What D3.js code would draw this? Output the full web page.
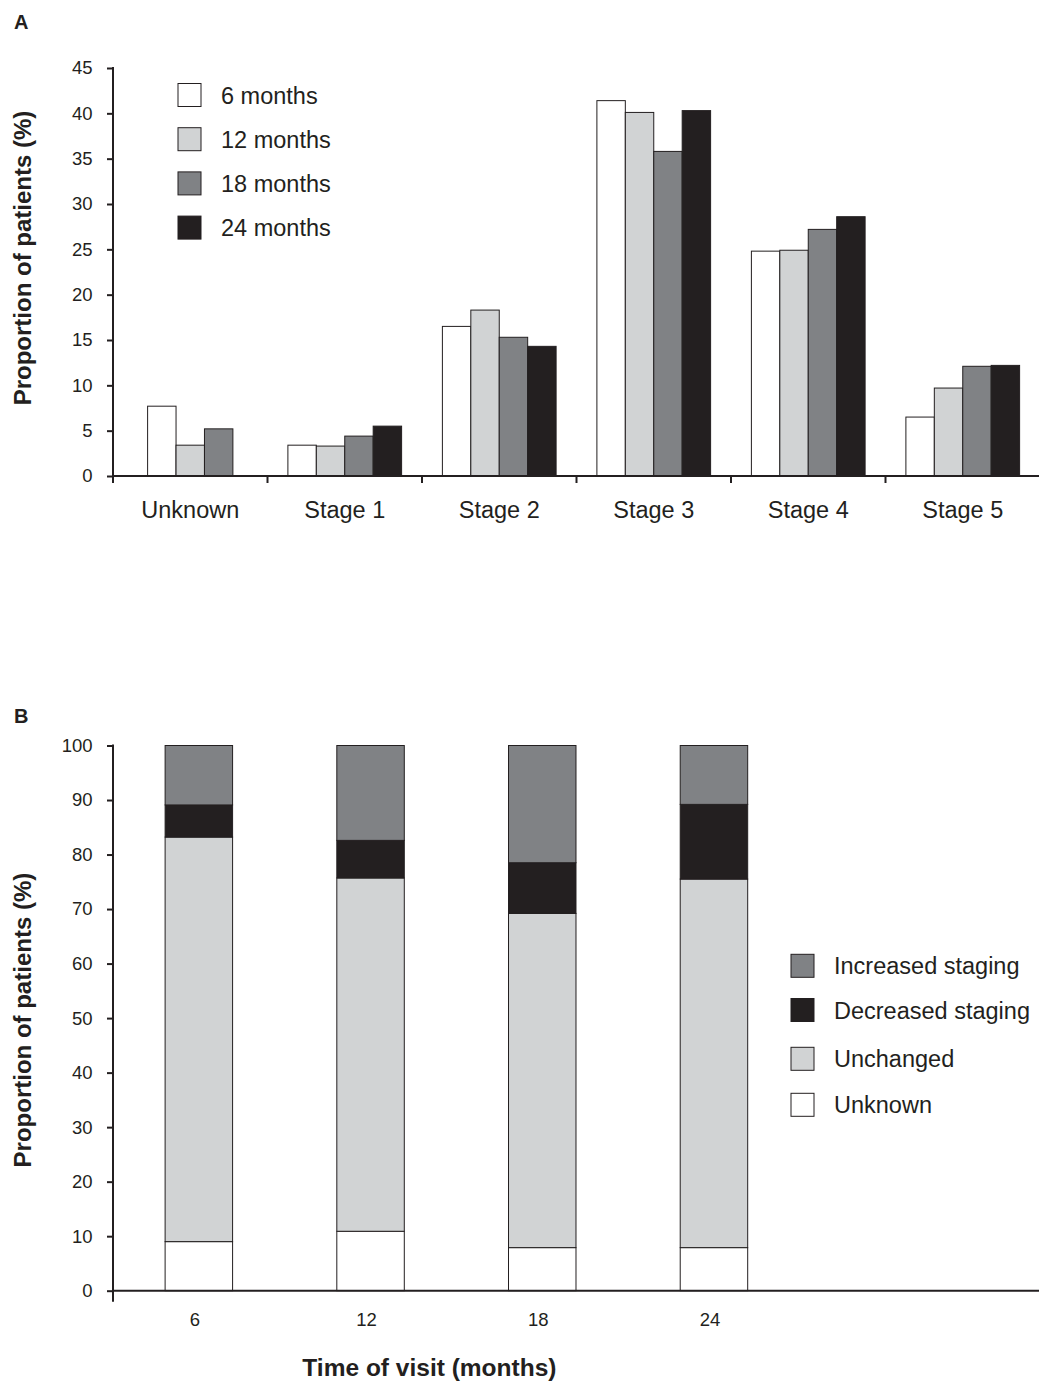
<!DOCTYPE html>
<html>
<head>
<meta charset="utf-8">
<script src="https://cdn.jsdelivr.net/npm/d3@7/dist/d3.min.js"></script>
<style>
  html, body { margin: 0; padding: 0; background: #fff; }
  svg { display: block; font-family: Arial, "Liberation Sans", Helvetica, sans-serif; }
  .tick text { fill: #231f20; }
</style>
</head>
<body>
<svg id="fig" width="1039" height="1382"></svg>
<script>
// ---- Panel A: CKD stage distribution at each visit ----
const stageCategories = ["Unknown", "Stage 1", "Stage 2", "Stage 3", "Stage 4", "Stage 5"];
const visitSeries = ["6 months", "12 months", "18 months", "24 months"];
const stageValues6  = [7.7, 3.4, 16.5, 41.4, 24.8, 6.5];
const stageValues12 = [3.4, 3.3, 18.3, 40.1, 24.9, 9.7];
const stageValues18 = [5.2, 4.4, 15.3, 35.8, 27.2, 12.1];
const stageValues24 = [null, 5.5, 14.3, 40.3, 28.6, 12.2];
const stageTicks = [0, 5, 10, 15, 20, 25, 30, 35, 40, 45];

// ---- Panel B: change in staging relative to baseline ----
const visitMonths = ["6", "12", "18", "24"];
const changeSeries = ["Unknown", "Unchanged", "Decreased staging", "Increased staging"];
const unknownShare   = [9.0, 10.9, 7.9, 7.9];
const unchangedShare = [74.2, 64.8, 61.3, 67.6];
const decreasedShare = [5.9, 6.9, 9.3, 13.7];
const increasedShare = [10.9, 17.4, 21.5, 10.8];
const shareTicks = [0, 10, 20, 30, 40, 50, 60, 70, 80, 90, 100];

const INK = "#231f20";
const FONT = "Arial, 'Liberation Sans', Helvetica, sans-serif";
const visitColors = ["#ffffff", "#d1d3d4", "#808285", "#231f20"];
const changeColors = { "Unknown": "#ffffff", "Unchanged": "#d1d3d4",
                       "Decreased staging": "#231f20", "Increased staging": "#808285" };

const svg = d3.select("#fig");

function styleAxis(g, size) {
  g.attr("font-family", FONT);
  g.selectAll(".domain").remove();
  g.selectAll(".tick line").attr("stroke", INK).attr("stroke-width", 2);
  g.selectAll(".tick text").attr("font-size", size).attr("fill", INK);
}

// ================= Panel A =================
{
  const left = 113, right = 1040, top = 68, bottom = 476;
  const x = d3.scaleBand().domain(stageCategories).range([left, right]);
  const y = d3.scaleLinear().domain([0, 45]).range([bottom, top]);
  const barW = x.bandwidth() * 0.184;
  const seriesValues = [stageValues6, stageValues12, stageValues18, stageValues24];

  svg.append("text").attr("x", 14).attr("y", 28.5)
    .attr("font-size", 20).attr("font-weight", "bold").attr("fill", INK).text("A");

  // grouped bars, centred on each category over the series that have a value
  stageCategories.forEach((cat, ci) => {
    const present = visitSeries.map((s, si) => ({ s, si, v: seriesValues[si][ci] }))
      .filter(d => d.v !== null);
    const groupW = present.length * barW;
    const inner = d3.scaleBand().domain(present.map(d => d.s))
      .range([x(cat) + (x.bandwidth() - groupW) / 2, x(cat) + (x.bandwidth() + groupW) / 2]);
    svg.append("g").selectAll("rect").data(present).join("rect")
      .attr("x", d => inner(d.s))
      .attr("y", d => y(d.v))
      .attr("width", inner.bandwidth())
      .attr("height", d => y(0) - y(d.v))
      .attr("fill", d => visitColors[d.si])
      .attr("stroke", INK).attr("stroke-width", 1);
  });

  // y axis
  const gy = svg.append("g").attr("transform", `translate(${left},0)`)
    .call(d3.axisLeft(y).tickValues(stageTicks).tickSize(6).tickPadding(14.5).tickSizeOuter(0));
  styleAxis(gy, 18.5);
  svg.append("line").attr("x1", left).attr("x2", left)
    .attr("y1", y(45) - 1).attr("y2", y(0) + 7).attr("stroke", INK).attr("stroke-width", 2);

  // x axis line, category boundary ticks, labels
  svg.append("line").attr("x1", left).attr("x2", right)
    .attr("y1", y(0)).attr("y2", y(0)).attr("stroke", INK).attr("stroke-width", 2);
  svg.append("g").selectAll("line").data(stageCategories.slice(1)).join("line")
    .attr("x1", d => x(d)).attr("x2", d => x(d))
    .attr("y1", y(0)).attr("y2", y(0) + 7).attr("stroke", INK).attr("stroke-width", 2);
  const gx = svg.append("g").attr("transform", `translate(0,${y(0)})`)
    .call(d3.axisBottom(x).tickSize(0).tickPadding(25));
  styleAxis(gx, 23.5);

  svg.append("text")
    .attr("transform", `translate(31,${(top + bottom) / 2 - 14}) rotate(-90)`)
    .attr("text-anchor", "middle").attr("font-size", 24).attr("font-weight", "bold")
    .attr("fill", INK).text("Proportion of patients (%)");

  // legend
  const lg = svg.append("g").selectAll("g").data(visitSeries).join("g")
    .attr("transform", (d, i) => `translate(178,${83.5 + i * 44.2})`);
  lg.append("rect").attr("width", 23).attr("height", 23)
    .attr("fill", (d, i) => visitColors[i]).attr("stroke", INK).attr("stroke-width", 1);
  lg.append("text").attr("x", 43).attr("y", 20).attr("font-size", 23.5)
    .attr("fill", INK).text(d => d);
}

// ================= Panel B =================
{
  const left = 113, right = 1039, top = 745.5, bottom = 1290.7;
  const x = d3.scaleBand().domain(visitMonths).range([left, left + 4 * 171.7]);
  const y = d3.scaleLinear().domain([0, 100]).range([bottom, top]);
  const barW = x.bandwidth() * 0.393;

  svg.append("text").attr("x", 14).attr("y", 722.5)
    .attr("font-size", 20).attr("font-weight", "bold").attr("fill", INK).text("B");

  const table = visitMonths.map((m, i) => ({
    month: m,
    "Unknown": unknownShare[i],
    "Unchanged": unchangedShare[i],
    "Decreased staging": decreasedShare[i],
    "Increased staging": increasedShare[i]
  }));
  const stacked = d3.stack().keys(changeSeries)(table);

  svg.append("g").selectAll("g").data(stacked).join("g")
    .attr("fill", d => changeColors[d.key])
    .selectAll("rect").data(d => d).join("rect")
    .attr("x", d => x(d.data.month) + (x.bandwidth() - barW) / 2)
    .attr("y", d => y(d[1]))
    .attr("width", barW)
    .attr("height", d => y(d[0]) - y(d[1]))
    .attr("stroke", INK).attr("stroke-width", 1);

  const gy = svg.append("g").attr("transform", `translate(${left},0)`)
    .call(d3.axisLeft(y).tickValues(shareTicks).tickSize(6).tickPadding(14.5).tickSizeOuter(0));
  styleAxis(gy, 18.5);
  svg.append("line").attr("x1", left).attr("x2", left)
    .attr("y1", y(100) - 1).attr("y2", y(0) + 11).attr("stroke", INK).attr("stroke-width", 2);

  svg.append("line").attr("x1", left).attr("x2", right)
    .attr("y1", y(0)).attr("y2", y(0)).attr("stroke", INK).attr("stroke-width", 2);
  const gx = svg.append("g").attr("transform", `translate(0,${y(0)})`)
    .call(d3.axisBottom(x).tickSize(0).tickPadding(22));
  gx.selectAll(".tick text").attr("dx", -4);
  styleAxis(gx, 18.5);

  svg.append("text")
    .attr("x", (x.range()[0] + x.range()[1]) / 2 - 27).attr("y", 1376)
    .attr("text-anchor", "middle").attr("font-size", 24.5).attr("font-weight", "bold")
    .attr("fill", INK).text("Time of visit (months)");

  svg.append("text")
    .attr("transform", `translate(31,${(top + bottom) / 2 + 2}) rotate(-90)`)
    .attr("text-anchor", "middle").attr("font-size", 24).attr("font-weight", "bold")
    .attr("fill", INK).text("Proportion of patients (%)");

  const legendOrder = ["Increased staging", "Decreased staging", "Unchanged", "Unknown"];
  const legendTops = [954.3, 998.5, 1047.3, 1093.3];
  const lg = svg.append("g").selectAll("g").data(legendOrder).join("g")
    .attr("transform", (d, i) => `translate(791,${legendTops[i]})`);
  lg.append("rect").attr("width", 23).attr("height", 23)
    .attr("fill", d => changeColors[d]).attr("stroke", INK).attr("stroke-width", 1);
  lg.append("text").attr("x", 43).attr("y", 20).attr("font-size", 23.5)
    .attr("fill", INK).text(d => d);
}
</script>
</body>
</html>
